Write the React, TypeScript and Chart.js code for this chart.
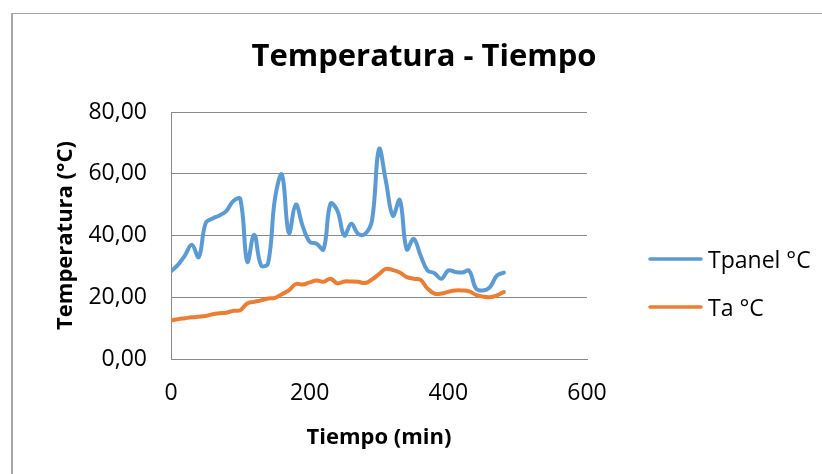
import React, { useEffect, useRef } from "react";
import { Chart, registerables } from "chart.js";

Chart.register(...registerables);

const tiempo = [
  0, 10, 20, 30, 40, 50, 60, 70, 80, 90, 100, 110, 120, 130, 140, 150, 160,
  170, 180, 190, 200, 210, 220, 230, 240, 250, 260, 270, 280, 290, 300, 310,
  320, 330, 340, 350, 360, 370, 380, 390, 400, 410, 420, 430, 440, 450, 460,
  470, 480,
];

const tpanel = [
  28.4, 30.5, 33.5, 37.0, 33.0, 44.0, 45.5, 46.5, 48.0, 51.2, 51.8, 31.5,
  40.2, 30.3, 31.0, 52.0, 59.7, 40.8, 50.0, 43.0, 38.0, 37.3, 35.5, 50.3,
  48.0, 40.0, 43.8, 40.5, 40.5, 45.0, 68.0, 57.5, 46.4, 51.5, 35.5, 38.9,
  33.5, 28.7, 27.8, 26.0, 28.7, 28.2, 28.0, 28.6, 22.8, 22.2, 23.3, 27.0,
  28.0,
];

const ta = [
  12.5, 12.9, 13.2, 13.5, 13.7, 13.9, 14.5, 14.8, 15.0, 15.6, 15.8, 18.0,
  18.5, 19.0, 19.6, 19.8, 21.0, 22.2, 24.3, 24.1, 24.8, 25.4, 25.0, 26.0,
  24.5, 25.1, 25.1, 25.0, 24.6, 25.8, 27.5, 29.2, 28.8, 28.0, 26.5, 26.0,
  25.6, 22.8, 21.2, 21.2, 21.8, 22.2, 22.2, 21.9, 20.8, 20.2, 20.0, 20.6,
  21.7,
];

const seriesNames = ["Tpanel °C", "Ta °C"];
const seriesColors = ["#5B9BD5", "#ED7D31"];
const xTicks = [0, 200, 400, 600];
const yTicks = [0, 20, 40, 60, 80];
const titleText = "Temperatura - Tiempo";
const xTitle = "Tiempo (min)";
const yTitle = "Temperatura (°C)";

const FONT = "'Open Sans', sans-serif";
const GRID = "#8a8a8a";

const titlePlugin = {
  id: "customTitle",
  afterDraw(chart: any) {
    const ctx = chart.ctx;
    ctx.save();
    ctx.font = `bold 31px ${FONT}`;
    ctx.fillStyle = "#000";
    ctx.textAlign = "center";
    ctx.textBaseline = "alphabetic";
    ctx.fillText(titleText, 424, 66);
    ctx.restore();
  },
};

const legendPlugin = {
  id: "customLegend",
  afterDraw(chart: any) {
    const ctx = chart.ctx;
    ctx.save();
    const ys = [259, 307];
    chart.data.datasets.forEach((ds: any, i: number) => {
      const y = ys[i];
      ctx.strokeStyle = ds.borderColor;
      ctx.lineWidth = 3.5;
      ctx.lineCap = "round";
      ctx.beginPath();
      ctx.moveTo(650, y);
      ctx.lineTo(701, y);
      ctx.stroke();
      ctx.fillStyle = "#000";
      ctx.font = `23px ${FONT}`;
      ctx.textAlign = "left";
      ctx.textBaseline = "alphabetic";
      ctx.fillText(ds.label, 708, y + 8.5);
    });
    ctx.restore();
  },
};

export default function App() {
  const ref = useRef<HTMLCanvasElement>(null);

  useEffect(() => {
    if (!ref.current) return;
    const chart = new Chart(ref.current, {
      type: "line",
      data: {
        datasets: [
          {
            label: seriesNames[0],
            data: tiempo.map((t, i) => ({ x: t, y: tpanel[i] })),
            borderColor: seriesColors[0],
            backgroundColor: seriesColors[0],
            borderWidth: 4,
            pointRadius: 0,
            tension: 0.4,
            borderCapStyle: "round",
            borderJoinStyle: "round",
          },
          {
            label: seriesNames[1],
            data: tiempo.map((t, i) => ({ x: t, y: ta[i] })),
            borderColor: seriesColors[1],
            backgroundColor: seriesColors[1],
            borderWidth: 4,
            pointRadius: 0,
            tension: 0.4,
            borderCapStyle: "round",
            borderJoinStyle: "round",
          },
        ],
      },
      plugins: [titlePlugin, legendPlugin],
      options: {
        animation: false,
        responsive: false,
        devicePixelRatio: 1,
        layout: { padding: { left: 0, right: 235, top: 112, bottom: 0 } },
        plugins: {
          legend: { display: false },
          title: { display: false },
          tooltip: { enabled: false },
        },
        scales: {
          x: {
            type: "linear",
            min: xTicks[0],
            max: xTicks[xTicks.length - 1],
            afterFit: (s: any) => {
              s.height = 115;
            },
            afterBuildTicks: (s: any) => {
              s.ticks = xTicks.map((v) => ({ value: v }));
            },
            grid: { display: false, drawTicks: false },
            border: { display: true, color: GRID, width: 1 },
            ticks: {
              padding: 21,
              color: "#000",
              font: { family: FONT, size: 23 },
              maxRotation: 0,
            },
            title: {
              display: true,
              text: xTitle,
              color: "#000",
              font: { family: FONT, size: 22, weight: "bold" },
              padding: { top: 0, bottom: 23 },
            },
          },
          y: {
            type: "linear",
            min: yTicks[0],
            max: yTicks[yTicks.length - 1],
            afterFit: (s: any) => {
              s.width = 171;
            },
            afterBuildTicks: (s: any) => {
              s.ticks = yTicks.map((v) => ({ value: v }));
            },
            grid: { display: true, color: GRID, lineWidth: 1, drawTicks: false },
            border: { display: true, color: GRID, width: 1 },
            ticks: {
              padding: 24,
              color: "#000",
              font: { family: FONT, size: 23 },
              callback: (v: any) => Number(v).toFixed(2).replace(".", ","),
            },
            title: {
              display: true,
              text: yTitle,
              color: "#000",
              font: { family: FONT, size: 22, weight: "bold" },
              padding: { top: 53, bottom: 0 },
            },
          },
        },
      },
    } as any);
    return () => chart.destroy();
  }, []);

  return (
    <div style={{ position: "fixed", left: 0, top: 0, width: 822, height: 474, background: "#fff", overflow: "hidden" }}>
      <div
        style={{
          position: "absolute",
          left: 11,
          top: 13,
          width: 900,
          height: 600,
          borderLeft: "2px solid #a6a6a6",
          borderTop: "1px solid #a6a6a6",
        }}
      />
      <canvas ref={ref} width={822} height={474} style={{ position: "absolute", left: 0, top: 0 }} />
    </div>
  );
}
